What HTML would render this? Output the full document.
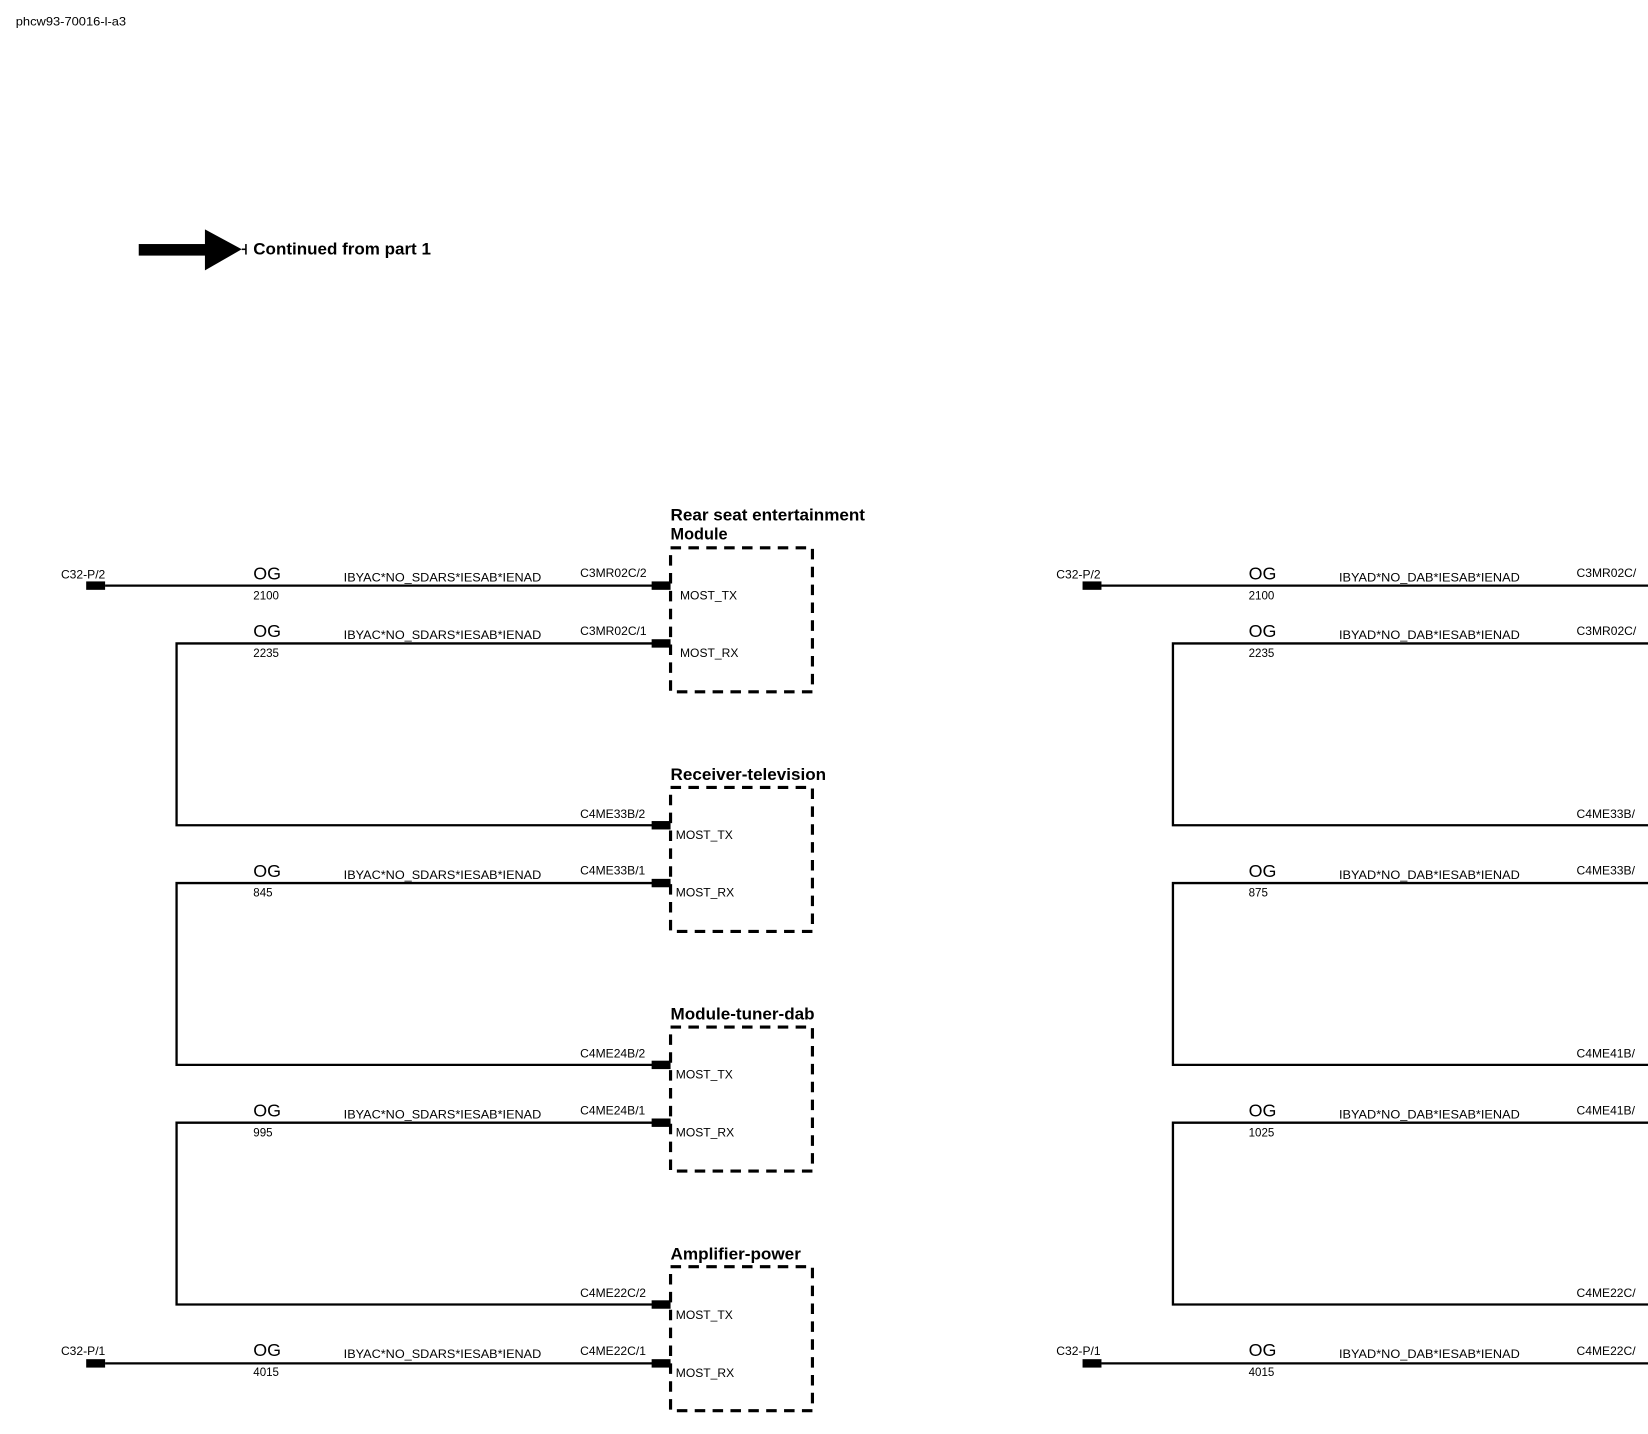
<!DOCTYPE html>
<html><head><meta charset="utf-8"><style>
html,body{margin:0;padding:0;background:#fff;}
svg{display:block;}
text{font-family:"Liberation Sans",Arial,sans-serif;fill:#000;}
.s{font-size:11.5px;}
.og{font-size:17px;}
.n{font-size:11px;}
.t{font-size:15.5px;font-weight:bold;}
</style></head><body>
<svg width="1648" height="1434" viewBox="0 0 1568 1364" xmlns="http://www.w3.org/2000/svg">
<text x="15" y="24" class="n" textLength="105" lengthAdjust="spacingAndGlyphs">phcw93-70016-l-a3</text>
<!-- arrow -->
<rect x="132" y="232" width="64" height="11" fill="#000"/>
<polygon points="195,218 230,237 195,257" fill="#000"/>
<line x1="230" y1="237" x2="234" y2="237" stroke="#000" stroke-width="1.5"/>
<line x1="234" y1="232" x2="234" y2="242" stroke="#000" stroke-width="1.5"/>
<text x="241" y="242" class="t" textLength="169" lengthAdjust="spacingAndGlyphs">Continued from part 1</text>

<g stroke="#000" stroke-width="2.2" fill="none">
<!-- left wires -->
<line x1="100" y1="557" x2="636" y2="557"/>
<polyline points="636,612 168,612 168,785 636,785"/>
<polyline points="636,840 168,840 168,1013 636,1013"/>
<polyline points="636,1068 168,1068 168,1241 636,1241"/>
<line x1="100" y1="1297" x2="636" y2="1297"/>
<!-- right wires -->
<line x1="1048" y1="557" x2="1568" y2="557"/>
<polyline points="1568,612 1116,612 1116,785 1568,785"/>
<polyline points="1568,840 1116,840 1116,1013 1568,1013"/>
<polyline points="1568,1068 1116,1068 1116,1241 1568,1241"/>
<line x1="1048" y1="1297" x2="1568" y2="1297"/>
</g>
<!-- boxes -->
<g stroke="#000" stroke-width="3" fill="none" stroke-dasharray="10,7">
<rect x="638" y="521" width="135" height="137"/>
<rect x="638" y="749" width="135" height="137"/>
<rect x="638" y="977" width="135" height="137"/>
<rect x="638" y="1205" width="135" height="137"/>
</g>
<!-- connector pins -->
<g fill="#000">
<rect x="82" y="553" width="18" height="8"/><rect x="82" y="1293" width="18" height="8"/>
<rect x="1030" y="553" width="18" height="8"/><rect x="1030" y="1293" width="18" height="8"/>
<rect x="620" y="553" width="18" height="8"/><rect x="620" y="608" width="18" height="8"/>
<rect x="620" y="781" width="18" height="8"/><rect x="620" y="836" width="18" height="8"/>
<rect x="620" y="1009" width="18" height="8"/><rect x="620" y="1064" width="18" height="8"/>
<rect x="620" y="1237" width="18" height="8"/><rect x="620" y="1293" width="18" height="8"/>
</g>
<!-- box titles -->
<text x="638" y="495" class="t" textLength="185" lengthAdjust="spacingAndGlyphs">Rear seat entertainment</text>
<text x="638" y="513" class="t">Module</text>
<text x="638" y="742" class="t" textLength="148" lengthAdjust="spacingAndGlyphs">Receiver-television</text>
<text x="638" y="970" class="t" textLength="137" lengthAdjust="spacingAndGlyphs">Module-tuner-dab</text>
<text x="638" y="1198" class="t" textLength="124" lengthAdjust="spacingAndGlyphs">Amplifier-power</text>
<!-- pin labels -->
<g class="s">
<text x="647" y="570">MOST_TX</text><text x="647" y="625">MOST_RX</text>
<text x="643" y="798">MOST_TX</text><text x="643" y="853">MOST_RX</text>
<text x="643" y="1026">MOST_TX</text><text x="643" y="1081">MOST_RX</text>
<text x="643" y="1255">MOST_TX</text><text x="643" y="1310">MOST_RX</text>
</g>
<!-- left labels -->
<g class="s">
<text x="58" y="550">C32-P/2</text><text x="58" y="1289">C32-P/1</text>
<text x="552" y="549">C3MR02C/2</text><text x="552" y="604">C3MR02C/1</text>
<text x="552" y="778">C4ME33B/2</text><text x="552" y="832">C4ME33B/1</text>
<text x="552" y="1006">C4ME24B/2</text><text x="552" y="1060">C4ME24B/1</text>
<text x="552" y="1234">C4ME22C/2</text><text x="552" y="1289">C4ME22C/1</text>
<text x="327" y="553" textLength="188" lengthAdjust="spacingAndGlyphs">IBYAC*NO_SDARS*IESAB*IENAD</text>
<text x="327" y="608" textLength="188" lengthAdjust="spacingAndGlyphs">IBYAC*NO_SDARS*IESAB*IENAD</text>
<text x="327" y="836" textLength="188" lengthAdjust="spacingAndGlyphs">IBYAC*NO_SDARS*IESAB*IENAD</text>
<text x="327" y="1064" textLength="188" lengthAdjust="spacingAndGlyphs">IBYAC*NO_SDARS*IESAB*IENAD</text>
<text x="327" y="1292" textLength="188" lengthAdjust="spacingAndGlyphs">IBYAC*NO_SDARS*IESAB*IENAD</text>
</g>
<g class="n">
<text x="241" y="570">2100</text><text x="241" y="625">2235</text><text x="241" y="853">845</text>
<text x="241" y="1081">995</text><text x="241" y="1309">4015</text>
<text x="1188" y="570">2100</text><text x="1188" y="625">2235</text><text x="1188" y="853">875</text>
<text x="1188" y="1081">1025</text><text x="1188" y="1309">4015</text>
</g>
<g class="og">
<text x="241" y="551">OG</text><text x="241" y="606">OG</text><text x="241" y="834">OG</text>
<text x="241" y="1062">OG</text><text x="241" y="1290">OG</text>
<text x="1188" y="551">OG</text><text x="1188" y="606">OG</text><text x="1188" y="834">OG</text>
<text x="1188" y="1062">OG</text><text x="1188" y="1290">OG</text>
</g>
<!-- right labels -->
<g class="s">
<text x="1005" y="550">C32-P/2</text><text x="1005" y="1289">C32-P/1</text>
<text x="1500" y="549">C3MR02C/</text><text x="1500" y="604">C3MR02C/</text>
<text x="1500" y="778">C4ME33B/</text><text x="1500" y="832">C4ME33B/</text>
<text x="1500" y="1006">C4ME41B/</text><text x="1500" y="1060">C4ME41B/</text>
<text x="1500" y="1234">C4ME22C/</text><text x="1500" y="1289">C4ME22C/</text>
<text x="1274" y="553" textLength="172" lengthAdjust="spacingAndGlyphs">IBYAD*NO_DAB*IESAB*IENAD</text>
<text x="1274" y="608" textLength="172" lengthAdjust="spacingAndGlyphs">IBYAD*NO_DAB*IESAB*IENAD</text>
<text x="1274" y="836" textLength="172" lengthAdjust="spacingAndGlyphs">IBYAD*NO_DAB*IESAB*IENAD</text>
<text x="1274" y="1064" textLength="172" lengthAdjust="spacingAndGlyphs">IBYAD*NO_DAB*IESAB*IENAD</text>
<text x="1274" y="1292" textLength="172" lengthAdjust="spacingAndGlyphs">IBYAD*NO_DAB*IESAB*IENAD</text>
</g>
</svg>
</body></html>
